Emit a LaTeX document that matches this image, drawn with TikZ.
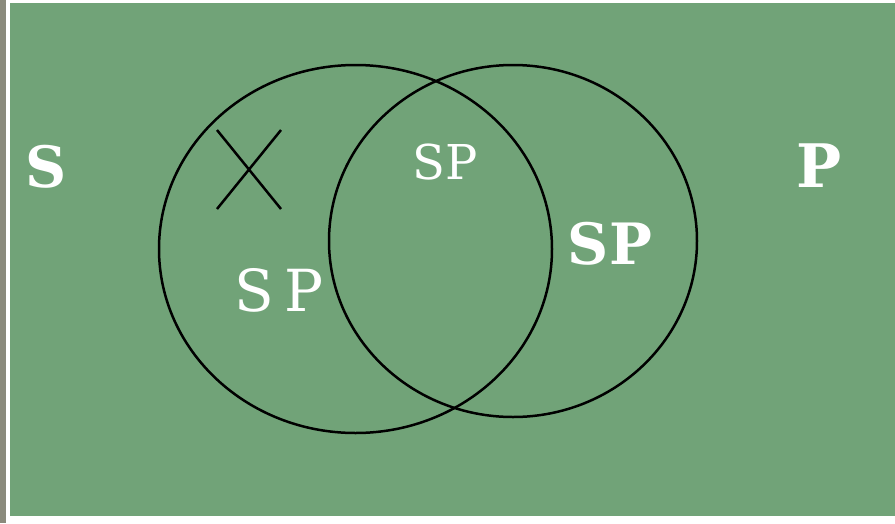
\documentclass[tikz,border=0pt]{standalone}
\usepackage{fontspec}
\setmainfont{DejaVu Serif}
\definecolor{bg}{HTML}{71A378}
\definecolor{strip}{HTML}{8A8A7C}
\begin{document}
\begin{tikzpicture}[x=1pt,y=-1pt,
  lbl/.style={text=white,inner sep=0pt,anchor=center},
  ring/.style={draw=black,line width=2.5pt},
  crossline/.style={draw=black,line width=2.5pt}]
\useasboundingbox (0,0) rectangle (895,523);
\fill[white] (0,0) rectangle (895,523);
\fill[strip] (0,0) rectangle (6,523);
\fill[bg] (10,3) rectangle (895,516);
\draw[ring] (355.5,249) ellipse [x radius=196.5, y radius=184];
\draw[ring] (513,241) ellipse [x radius=184, y radius=176];
\coordinate (xa) at (217,130);
\coordinate (xb) at (281,209);
\coordinate (xc) at (281,130);
\coordinate (xd) at (217,209);
\draw[crossline] (xa) -- (xb);
\draw[crossline] (xc) -- (xd);
\node[lbl,font=\fontsize{57}{62}\selectfont\bfseries] (s) at (46,167) {S};
\node[lbl,font=\fontsize{60}{66}\selectfont\bfseries] (p) at (819,166) {P};
\node[lbl,font=\fontsize{48}{54}\selectfont] (spmid) at (445,162) {SP};
\node[lbl,font=\fontsize{57}{62}\selectfont\bfseries] (spright) at (610,244) {SP};
\node[lbl,font=\fontsize{58}{64}\selectfont] (spleft) at (279,290) {S\,P};
\end{tikzpicture}
\end{document}
